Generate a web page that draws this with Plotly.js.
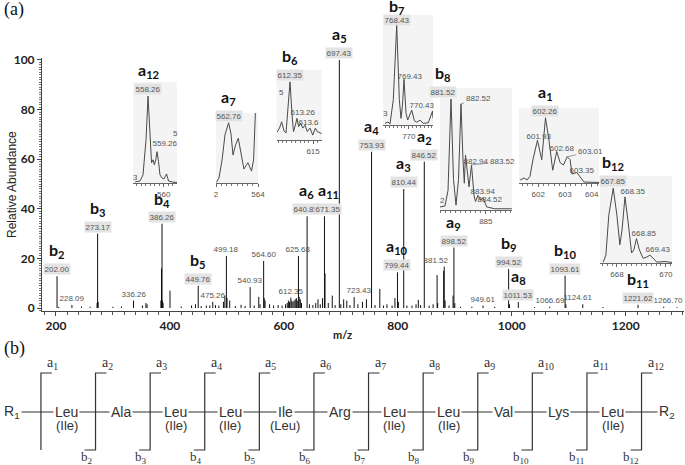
<!DOCTYPE html>
<html><head><meta charset="utf-8">
<script src="https://cdn.plot.ly/plotly-3.0.1.min.js"></script>
<style>html,body{margin:0;padding:0;background:#fff}#chart{width:685px;height:465px}</style>
</head><body><div id="chart"></div>
<script>
// ================= DATA =================
// Main MS/MS spectrum: m/z and relative abundance (%)
const specMz = [202.00,205,228.09,245,260,272.2,273.17,274.2,300,315,
  336.26,352,358,360,384.3,385.3,386.26,387.2,388,400.2,
  420,438,445,449.76,455,464,470,475.26,480,486,
  494,496.5,499.18,500.3,505,515,525,532,540.93,548,
  556,558.3,564.60,565.6,567,575,582,590,597,603,
  606,608,610,612.35,614,616,618,620,622,623.5,
  625.68,627,629,631,640.85,645,651,656,660,664,
  668,671.35,672.3,678,685,690,697.43,700,705,710.5,
  716,723.43,730,738,745,753.93,760,768.43,775,781,
  790,795,799.44,801,810.44,816,825,832,836,840,
  846.52,855,862,869,870,880.5,881.52,883,890,897,
  898.52,900,910,930,949.61,970,994.52,996,1011.53,1040,
  1066.69,1093.61,1095,1124.61,1160,1221.62,1266.70,1290];
const specInt = [12.8,0.5,1.2,0.6,0.5,2,30,2.5,0.5,0.6,
  3,1,2,1.5,3,16,34,3,2,7,
  0.6,1,1.5,9,0.8,1,1,2.5,1.2,1,
  2.5,5,21,4,3,0.8,1.3,0.8,8.4,1,
  4.5,1.5,19,4,3,1.5,1,1.2,1,1.5,
  2,3,2.5,4.2,3,2.5,3,3.5,4,3,
  21,4.5,3.5,2,37,1.5,1.2,2,3.5,1.5,
  4,37,14,2,5,1.2,100,1.5,3.5,3,
  1.2,4.4,1.5,2.5,3.5,63,1.2,7.7,1,1.5,
  1,4,14.4,2.5,48,1,1,1.5,3.3,1.2,
  59,1,1.5,13.3,2,15,16.7,3,1,5,
  24.4,2,0.5,0.5,1,0.5,15.7,1.5,2.4,0.4,
  0.5,13,1.5,1.5,0.4,1.3,0.5,0.3];

// Labelled peaks in the main spectrum
const lblMz = [202.00,228.09,273.17,336.26,386.26,449.76,475.26,499.18,540.93,564.60,
  612.35,625.68,640.85,671.35,697.43,723.43,753.93,799.44,810.44,846.52,
  881.52,898.52,949.61,994.52,1011.53,1066.69,1093.61,1124.61,1221.62,1266.70];
const lblIon = ['b<sub>2</sub>','','b<sub>3</sub>','','b<sub>4</sub>','b<sub>5</sub>','','','','',
  '','','a<sub>6</sub>','a<sub>11</sub>','a<sub>5</sub>','','a<sub>4</sub>','a<sub>10</sub>','a<sub>3</sub>','a<sub>2</sub>',
  '','a<sub>9</sub>','','b<sub>9</sub>','a<sub>8</sub>','','b<sub>10</sub>','','b<sub>11</sub>',''];

// Zoomed isotope profiles (insets)
const a12Mz = [556.82,557.37,557.7,558.04,558.26,558.48,558.65,558.82,558.96,559.12,559.26,559.43,559.59,559.82,560.04,560.32,560.54,560.93,561.48];
const a12Int = [1,2,8,43,86,43,20,23,18,23,31,21,8,5,4,9,2,1,0.5];
const a12Lbl = ['558.26','559.26'];

const a7Mz = [562.02,562.14,562.29,562.43,562.6,562.71,562.81,562.93,563.06,563.19,563.33,563.52,563.69,563.79,563.86,563.9];
const a7Int = [1,7,33,69,86,71,40,54,64,40,20,29,17,33,100,120];
const a7Lbl = ['562.76'];

const b6Mz = [610.85,611.14,611.39,611.66,611.89,612.12,612.35,612.58,612.75,612.96,613.15,613.33,613.58,613.81,614.07,614.34,614.65,614.96,615.26,615.49,615.8,616.0];
const b6Int = [11,17,26,13,10,43,83,36,12,21,31,19,24,17,21,12,17,7,17,12,10,9];
const b6Lbl = ['612.35','613.26','613.6'];

const b7Mz = [766.91,767.3,767.56,767.99,768.43,768.77,768.99,769.18,769.38,769.64,769.86,770.12,770.38,770.72,771.03,771.46,771.88,772.53,772.88,773.08,773.14];
const b7Int = [1.5,2.7,1,23,91,23,6,18,41.5,10.6,4.5,9,13.6,3.9,2.5,4.5,1.5,2,10,12.7,6];
const b7Lbl = ['768.43','769.43','770.43'];

const b8Mz = [880.42,880.92,881.22,881.52,881.77,882.02,882.27,882.52,882.72,882.85,882.97,883.32,883.57,883.82,883.97,884.22,884.52,884.72,885.09,885.9,887.6];
const b8Int = [2.5,3.3,16,91,25,4,25,87,41,22,45,19,37,12,7,12,8,10,2.5,1,1];
const b8Lbl = ['881.52','882.52','882.94','883.52','883.94','884.52'];

const a1Mz = [601.32,601.47,601.58,601.69,601.8,601.97,602.13,602.27,602.4,602.54,602.69,602.82,602.94,603.08,603.19,603.26,603.44,603.56,603.71,604.27];
const a1Int = [4,6.7,4,9,31,57,31,87,57,17,42,27,24,35,31,12,14,9,1.3,0.7];
const a1Lbl = ['602.26','601.93','602.68','603.01','603.35'];

const b12Mz = [667.44,667.55,667.67,667.85,668.0,668.12,668.21,668.33,668.45,668.6,668.69,668.8,668.92,669.07,669.23,669.35,669.47,669.63,669.96,670.25];
const b12Int = [1,9,55,86,55,21,38,76,49,11.5,15,28,15,5.4,7,9,5.7,1,1.7,0.6];
const b12Lbl = ['667.85','668.35','668.85','669.43'];

// Peptide sequence (part b)
const residues = ['R<sub>1</sub>','Leu','Ala','Leu','Leu','Ile','Arg','Leu','Leu','Val','Lys','Leu','R<sub>2</sub>'];
const residueAlt = ['','(Ile)','','(Ile)','(Ile)','(Leu)','','(Ile)','(Ile)','','','(Ile)',''];
const aIons = ['a<sub>1</sub>','a<sub>2</sub>','a<sub>3</sub>','a<sub>4</sub>','a<sub>5</sub>','a<sub>6</sub>','a<sub>7</sub>','a<sub>8</sub>','a<sub>9</sub>','a<sub>10</sub>','a<sub>11</sub>','a<sub>12</sub>'];
const bIons = ['','b<sub>2</sub>','b<sub>3</sub>','b<sub>4</sub>','b<sub>5</sub>','b<sub>6</sub>','b<sub>7</sub>','b<sub>8</sub>','b<sub>9</sub>','b<sub>10</sub>','b<sub>11</sub>','b<sub>12</sub>'];

// ================= LAYOUT / STYLE =================
const W = 685, H = 465;
const fx = p => p / W, fy = p => 1 - p / H;
const NUM_FONT = {family:'Liberation Sans, Arial, sans-serif', size:8, color:'#555'};
const ION_FONT = {family:'Lato, Open Sans, sans-serif', size:16, color:'#111', weight:'bold'};
const LBL_BG = '#e3e3e3';
const SANS = 'Liberation Sans, Arial, sans-serif';
const SERIF = 'Liberation Serif, Times New Roman, serif';
const BOLD_TICK = {family:'Lato, Open Sans, sans-serif', size:12, color:'#222', weight:'bold'};

// label nudges in pixels: [dx, dy(up +)]
const numShift = {'881.52':[-8,0],'1124.61':[-5,0],'1266.70':[4,0],'723.43':[5,0],'671.35':[4,0],'640.85':[-1,0],
  '768.43':[0,-2],
  '559.26':[8,2],'769.43':[6,-4],'770.43':[10,-2],'613.26':[6,-1],'613.6':[8,-6],
  '601.93':[2,-3],'602.68':[5,-3],'603.35':[5,-4],
  '668.35':[8,-1],'668.85':[8,-1],'669.43':[8,-1],
  '882.94':[10,-13],'883.94':[5,-3],'884.52':[7,-8]};
const ionShift = {'b<sub>4</sub>':[0,-1],'b<sub>7</sub>':[0,-5]};
const leader = {'882.52':[17,-5],'883.52':[31,-3],'603.01':[23,-5]};

const traces = [];
const ann = [];
const shapes = [];

// Main stick spectrum
const sx = [], sy = [];
specMz.forEach((m,i)=>{ sx.push(m,m,null); sy.push(0,specInt[i],null); });
traces.push({type:'scatter', mode:'lines', x:sx, y:sy, xaxis:'x', yaxis:'y',
  line:{color:'#111', width:1}, hoverinfo:'skip'});

function addLabel(xref, yref, x, y, text, ion) {
  const s = numShift[text] || [0,0];
  ann.push({xref, yref, x, y, text, showarrow:false, xanchor:'center', yanchor:'bottom',
    yshift:1+s[1], xshift:s[0], font:NUM_FONT, bgcolor: ion ? LBL_BG : 'rgba(0,0,0,0)', borderpad:0.5});
  if (ion) {
    const t = ionShift[ion] || [0,0];
    ann.push({xref, yref, x, y, text:ion, showarrow:false, xanchor:'center', yanchor:'bottom',
      yshift:13+s[1]+t[1], xshift:s[0]+t[0], font:ION_FONT});
  }
}

lblMz.forEach((m,i)=>{
  const k = specMz.indexOf(m);
  addLabel('x','y', m, specInt[k], m.toFixed(2), lblIon[i]);
});

// Insets
function localMaxNear(mz, it, m) {
  let best = -1, bd = 1e9;
  for (let i = 1; i < mz.length - 1; i++) {
    if (it[i] >= it[i-1] && it[i] >= it[i+1]) {
      const d = Math.abs(mz[i] - m);
      if (d < bd) { bd = d; best = i; }
    }
  }
  return best;
}

const insets = [
  {mz:a12Mz, it:a12Int, lbl:a12Lbl, ion:'a<sub>12</sub>', px:[133,177], py:[183,82], range:[556.59,561.48], tv:[560], tt:['560'], minor:0.5},
  {mz:a7Mz, it:a7Int, lbl:a7Lbl, ion:'a<sub>7</sub>', px:[216,258], py:[183,113], range:[562.0,564.0], tv:[562,564], tt:['2','564'], minor:0.25},
  {mz:b6Mz, it:b6Int, lbl:b6Lbl, ion:'b<sub>6</sub>', px:[276.7,321.7], py:[140,70], range:[610.82,615.99], tv:[615], tt:['615'], minor:0.5},
  {mz:b7Mz, it:b7Int, lbl:b7Lbl, ion:'b<sub>7</sub>', px:[383,433], py:[125,15], range:[766.65,773.14], tv:[770], tt:['770'], minor:0.5},
  {mz:b8Mz, it:b8Int, lbl:b8Lbl, ion:'b<sub>8</sub>', px:[440,512], py:[210,88], range:[880.42,887.62], tv:[885], tt:['885'], minor:0.5},
  {mz:a1Mz, it:a1Int, lbl:a1Lbl, ion:'a<sub>1</sub>', px:[519,599], py:[183,108], range:[601.28,604.27], tv:[602,603,604], tt:['602','603','604'], minor:0.2},
  {mz:b12Mz, it:b12Int, lbl:b12Lbl, ion:'b<sub>12</sub>', px:[600,672], py:[263,176], range:[667.31,670.25], tv:[668,670], tt:['668','670'], minor:0.2}
];

const layout = {
  width:W, height:H, margin:{l:0,r:0,t:0,b:0},
  paper_bgcolor:'#fff', plot_bgcolor:'rgba(0,0,0,0)', showlegend:false,
  xaxis:{domain:[fx(42), fx(684)], range:[175.6,1302.3], anchor:'y',
    showline:true, linecolor:'#444', linewidth:1, ticks:'outside', ticklen:4, tickcolor:'#444',
    tick0:0, dtick:200, showgrid:false, zeroline:false, tickfont:BOLD_TICK,
    minor:{dtick:20, tick0:0, ticks:'outside', ticklen:2.5, tickcolor:'#555'}},
  yaxis:{domain:[fy(311), fy(58)], range:[-1.2,100.8], anchor:'x',
    showline:true, linecolor:'#444', linewidth:1, ticks:'outside', ticklen:4, tickcolor:'#444',
    tick0:0, dtick:20, showgrid:false, zeroline:false, tickfont:BOLD_TICK,
    minor:{dtick:1, tick0:0, ticks:'outside', ticklen:2.5, tickcolor:'#777'}}
};

insets.forEach((s, j)=>{
  const n = j + 2, xa = 'x'+n, ya = 'y'+n;
  traces.push({type:'scatter', mode:'lines', x:s.mz, y:s.it, xaxis:xa, yaxis:ya,
    line:{color:'#4a4a4a', width:1}, hoverinfo:'skip'});
  layout['xaxis'+n] = {domain:[fx(s.px[0]), fx(s.px[1])], range:s.range, anchor:ya,
    showline:true, linecolor:'#666', linewidth:1, ticks:'outside', ticklen:3, tickcolor:'#666',
    tickmode:'array', tickvals:s.tv, ticktext:s.tt, showgrid:false, zeroline:false,
    tickfont:{family:SANS, size:8, color:'#555'},
    minor:{tickmode:'linear', tick0:0, dtick:s.minor, ticks:'outside', ticklen:2, tickcolor:'#777'}};
  layout['yaxis'+n] = {domain:[fy(s.py[0]), fy(s.py[1])], range:[0,100], anchor:xa, visible:false};
  shapes.push({type:'rect', xref:xa+' domain', yref:ya+' domain', x0:0, x1:1, y0:0, y1:1,
    fillcolor:'#f4f4f4', line:{width:0}, layer:'below'});
  s.lbl.forEach((t, q)=>{
    const k = localMaxNear(s.mz, s.it, parseFloat(t));
    const x = s.mz[k], y = s.it[k];
    if (leader[t]) {
      ann.push({xref:xa, yref:ya, x, y, text:t, showarrow:true, arrowhead:0, arrowwidth:0.8,
        arrowcolor:'#888', standoff:0, ax:leader[t][0], ay:leader[t][1], font:NUM_FONT});
    } else {
      addLabel(xa, ya, x, y, t, q === 0 ? s.ion : '');
    }
  });
});

// cropped axis fragments visible at inset edges
[['3',135,177],['5',175,133],['5',281,92],['3',385,114],['2',442,200]].forEach(f=>{
  ann.push({xref:'paper', yref:'paper', x:fx(f[1]), y:fy(f[2]), xanchor:'center', yanchor:'middle',
    text:f[0], showarrow:false, font:{family:SANS, size:8, color:'#555'}});
});

// axis titles and panel letters
ann.push({xref:'paper', yref:'paper', x:fx(12), y:fy(185), xanchor:'center', yanchor:'middle',
  text:'Relative Abundance', textangle:-90, showarrow:false, font:{family:SANS, size:12, color:'#222'}});
ann.push({xref:'paper', yref:'paper', x:fx(342), y:fy(334), xanchor:'center', yanchor:'middle',
  text:'m/z', showarrow:false, font:{family:'Lato, Open Sans, sans-serif', size:11, color:'#222', weight:'bold'}});
ann.push({xref:'paper', yref:'paper', x:fx(2), y:fy(9), xanchor:'left', yanchor:'middle', text:'(a)',
  showarrow:false, font:{family:SERIF, size:18, color:'#111'}});
ann.push({xref:'paper', yref:'paper', x:fx(2), y:fy(348), xanchor:'left', yanchor:'middle', text:'(b)',
  showarrow:false, font:{family:SERIF, size:18, color:'#111'}});

// ================= Part (b): fragmentation scheme =================
const TOP = 33, BOT = 110, CHAIN = 72, ALT = 85, HOOK = 0.2, OFF = 0.03;
layout.xaxis9 = {domain:[0,1], range:[-12/54.6, (W-12)/54.6], anchor:'y9', visible:false};
layout.yaxis9 = {domain:[0, 125/H], range:[125, 0], anchor:'x9', visible:false};
const dx = [0, residues.length-1, null], dy = [CHAIN, CHAIN, null];
aIons.forEach((a, k)=>{
  const c = k + 0.5 + OFF;
  dx.push(c+HOOK, c, c); dy.push(TOP, TOP, BOT);
  if (bIons[k]) { dx.push(c-HOOK); dy.push(BOT); }
  dx.push(null); dy.push(null);
  ann.push({xref:'x9', yref:'y9', x:c, y:TOP, text:a, showarrow:false, xanchor:'left', yanchor:'bottom',
    xshift:4, yshift:-1, font:{family:SERIF, size:14, color:'#333'}});
  if (bIons[k]) ann.push({xref:'x9', yref:'y9', x:c, y:BOT+7, text:bIons[k], showarrow:false,
    xanchor:'right', yanchor:'middle', xshift:-1, font:{family:SERIF, size:13, color:'#333'}});
});
traces.push({type:'scatter', mode:'lines', x:dx, y:dy, xaxis:'x9', yaxis:'y9',
  line:{color:'#333', width:1.2}, hoverinfo:'skip'});
residues.forEach((r, i)=>{
  ann.push({xref:'x9', yref:'y9', x:i, y:CHAIN, text:r, showarrow:false, bgcolor:'#fff', borderpad:1,
    font:{family:SANS, size:14, color:'#333'}});
  if (residueAlt[i]) ann.push({xref:'x9', yref:'y9', x:i, y:ALT, text:residueAlt[i], showarrow:false,
    font:{family:SANS, size:13, color:'#333'}});
});

layout.annotations = ann;
layout.shapes = shapes;
Plotly.newPlot('chart', traces, layout, {displayModeBar:false, staticPlot:true});
</script></body></html>
